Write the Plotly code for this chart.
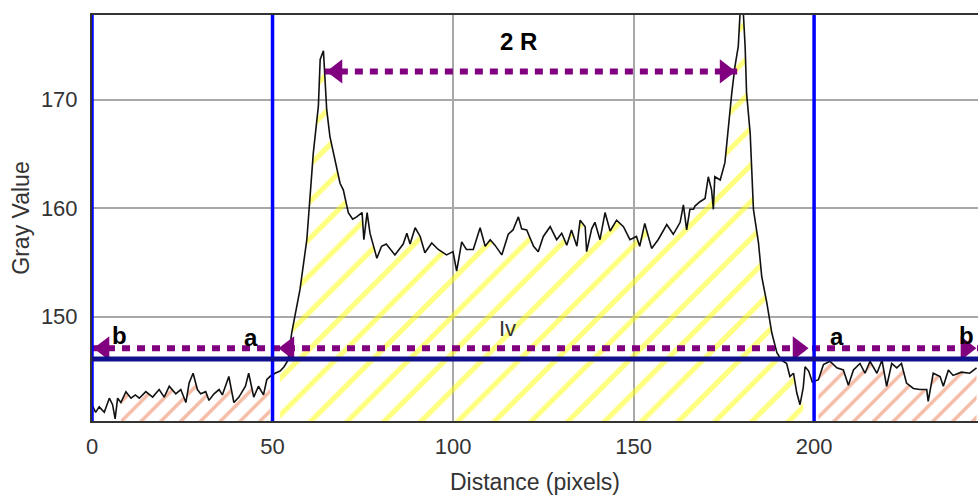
import numpy as np
import plotly.graph_objects as go

# ---------------- data ----------------
distance = [
    0.0, 1.0, 2.0, 3.4, 4.8, 5.7, 6.4, 7.1, 8.0, 9.4, 10.8, 12.0, 13.1, 14.9, 16.8, 18.6,
    20.0, 21.4, 23.2, 24.6, 26.0, 26.9, 28.0, 29.2, 30.1, 31.5, 32.4, 33.8, 35.2, 36.1,
    37.9, 39.3, 40.7, 42.5, 43.4, 44.8, 46.1, 47.5, 48.4, 49.3, 50.7, 52.1, 53.2, 54.3,
    55.3, 57.6, 59.5, 60.4, 61.3, 62.7, 63.2, 64.1, 64.5, 65.0, 65.9, 67.3, 68.7, 69.6,
    71.0, 72.2, 73.3, 74.8, 75.3, 76.2, 77.0, 78.9, 80.2, 81.5, 83.9, 86.2, 87.2, 88.1,
    89.5, 90.9, 92.2, 94.1, 95.9, 98.2, 100.0, 101.0, 102.4, 103.7, 105.6, 107.5, 108.9,
    110.3, 111.6, 113.5, 115.3, 116.6, 118.1, 119.0, 120.4, 122.3, 123.6, 125.0, 126.9,
    128.7, 130.1, 131.5, 132.8, 134.3, 135.2, 136.6, 137.0, 138.4, 139.3, 140.7, 142.1,
    143.5, 145.3, 147.2, 149.0, 150.8, 151.7, 153.1, 155.0, 156.8, 159.2, 161.0, 162.9,
    163.8, 164.7, 165.6, 166.6, 167.0, 168.4, 169.8, 170.7, 171.6, 172.1, 172.5, 174.0,
    175.3, 176.3, 177.2, 178.1, 179.0, 179.5, 180.4, 180.9, 181.3, 182.3, 183.2, 184.6,
    185.5, 186.9, 188.3, 189.7, 191.0, 192.4, 193.3, 194.3, 195.2, 196.1, 197.0, 197.5,
    198.5, 199.5, 201.2, 202.6, 204.4, 206.3, 208.1, 209.5, 210.9, 212.7, 214.1, 215.5,
    217.4, 218.8, 220.1, 221.5, 222.9, 224.2, 225.6, 227.5, 229.3, 231.2, 231.6, 233.0,
    234.9, 235.8, 237.2, 238.5, 240.8, 243.1, 245.0,
]
gray_value = [
    141.9, 141.2, 141.7, 141.2, 142.5, 141.9, 140.6, 142.5, 142.1, 143.1, 142.5, 142.8,
    142.5, 143.1, 142.6, 143.3, 142.6, 143.6, 142.9, 143.3, 142.1, 143.9, 144.8, 143.3,
    142.9, 143.1, 142.3, 142.9, 143.3, 142.8, 144.5, 142.1, 142.6, 143.6, 144.8, 142.6,
    143.6, 142.8, 144.2, 144.5, 144.8, 145.0, 145.4, 146.0, 148.5, 152.5, 157.1, 161.4,
    165.1, 169.4, 173.7, 174.5, 172.5, 169.1, 166.6, 164.5, 162.3, 161.7, 159.6, 159.0,
    159.2, 159.6, 157.1, 159.6, 157.7, 155.4, 156.5, 156.7, 155.7, 156.7, 157.7, 156.7,
    158.2, 157.4, 155.9, 156.8, 156.2, 155.7, 156.0, 154.2, 156.9, 156.2, 156.2, 158.2,
    156.5, 157.1, 156.6, 155.7, 157.6, 158.0, 159.2, 158.1, 158.0, 156.5, 156.0, 157.4,
    158.3, 157.1, 157.7, 156.6, 158.0, 156.5, 158.9, 158.3, 156.0, 158.1, 158.7, 157.1,
    159.6, 157.9, 158.9, 158.3, 157.1, 157.4, 156.5, 158.6, 156.3, 157.1, 158.5, 157.6,
    158.7, 160.3, 158.0, 159.9, 159.9, 160.2, 160.6, 160.9, 162.9, 161.7, 159.9, 162.9,
    162.6, 164.2, 167.9, 170.6, 173.1, 174.9, 178.0, 178.0, 174.9, 170.6, 166.9, 159.9,
    156.8, 153.7, 151.3, 148.5, 146.7, 146.0, 145.7, 144.5, 144.8, 143.0, 141.9, 143.5,
    145.4, 145.0, 144.0, 144.2, 145.6, 145.9, 145.3, 145.1, 143.7, 145.1, 145.7, 144.8,
    145.9, 144.8, 146.0, 143.6, 145.7, 145.3, 145.7, 143.9, 143.4, 143.3, 143.3, 142.2,
    144.8, 144.5, 143.6, 145.1, 144.6, 144.9, 144.8, 145.3,
]

x_ticks = [0, 50, 100, 150, 200]
y_ticks = [150, 160, 170]
x_range = [0, 245.4]
y_range = [140.4, 177.8]

boundary_x = [0, 50, 200]          # blue vertical markers
level_y = 146.1                     # navy horizontal level
dotted_y = 147.1                    # long dotted arrow level
top_arrow_y = 172.6                 # "2 R" arrow level
top_arrow_tips = [64.5, 178.7]
bottom_left_tips = [0.0, 51.2]
bottom_right_tips = [198.9, 245.4]
head_offset = 3.35                  # arrowhead tip-to-centre distance in x units

yellow_span = [52.0, 197.0]
orange_spans = [[8.0, 50.0], [200.0, 245.0]]

label_text = ["2 R", "b", "a", "a", "b"]
label_x = [118.0, 7.5, 44.0, 206.4, 242.1]
label_y = [175.4, 148.25, 148.1, 148.2, 148.25]
iv_text = "Iv"
iv_x, iv_y = 115.2, 148.9

# ---------------- figure ----------------
dx = np.array(distance)
gy = np.array(gray_value)

fig = go.Figure()

def span_trace(lo, hi, color, size, solidity):
    m = (dx >= lo) & (dx <= hi)
    return go.Scatter(
        x=dx[m], y=gy[m], mode="none", fill="tozeroy",
        fillcolor="rgba(0,0,0,0)",
        fillpattern=dict(shape="/", fgcolor=color, bgcolor="rgba(0,0,0,0)",
                         size=size, solidity=solidity),
        hoverinfo="skip", showlegend=False,
    )

fig.add_trace(span_trace(yellow_span[0], yellow_span[1], "#ffff00", 26, 0.2))
for lo, hi in orange_spans:
    fig.add_trace(span_trace(lo, hi, "#ec7a50", 14, 0.25))

# profile line
fig.add_trace(go.Scatter(x=distance, y=gray_value, mode="lines",
                         line=dict(color="#111111", width=1.6), showlegend=False))

# blue boundaries (shapes)
for bx in boundary_x:
    fig.add_shape(type="line", xref="x", yref="y", x0=bx, x1=bx,
                  y0=y_range[0], y1=y_range[1],
                  line=dict(color="#0000ff", width=3.5), layer="above")
fig.add_shape(type="line", xref="x", yref="y", x0=x_range[0], x1=x_range[1],
              y0=level_y, y1=level_y, line=dict(color="#10108c", width=5), layer="above")

purple = "#800080"
dash = "8px,7px"
# dotted arrow lines
fig.add_trace(go.Scatter(x=top_arrow_tips, y=[top_arrow_y] * 2, mode="lines",
                         line=dict(color=purple, width=6, dash=dash), showlegend=False))
fig.add_trace(go.Scatter(x=x_range, y=[dotted_y] * 2, mode="lines",
                         line=dict(color=purple, width=6, dash=dash), showlegend=False))

# arrowheads
left_x = [top_arrow_tips[0] + head_offset] + [t + head_offset for t in bottom_left_tips]
left_y = [top_arrow_y] + [dotted_y] * len(bottom_left_tips)
right_x = [top_arrow_tips[1] - head_offset] + [t - head_offset for t in bottom_right_tips]
right_y = [top_arrow_y] + [dotted_y] * len(bottom_right_tips)
fig.add_trace(go.Scatter(x=left_x, y=left_y, mode="markers",
                         marker=dict(symbol="triangle-left", size=21, color=purple),
                         showlegend=False, cliponaxis=False))
fig.add_trace(go.Scatter(x=right_x, y=right_y, mode="markers",
                         marker=dict(symbol="triangle-right", size=21, color=purple),
                         showlegend=False, cliponaxis=False))

# labels
for t, lx, ly in zip(label_text, label_x, label_y):
    fig.add_annotation(x=lx, y=ly, text=f"<b>{t}</b>", showarrow=False,
                       font=dict(family="Liberation Sans, Arial", size=24, color="#000000"))
fig.add_annotation(x=iv_x, y=iv_y, text=iv_text, showarrow=False,
                   font=dict(family="Liberation Sans, Arial", size=22, color="#333333"))

tick_font = dict(family="Liberation Sans, Arial", size=22, color="#333333")
title_font = dict(family="Liberation Sans, Arial", size=23, color="#333333")
fig.update_layout(
    width=978, height=497,
    margin=dict(l=92, r=0, t=15, b=76),
    plot_bgcolor="#ffffff", paper_bgcolor="#ffffff",
    showlegend=False,
    xaxis=dict(range=x_range, tickvals=x_ticks, showgrid=True, gridcolor="#a8a8a8",
               gridwidth=1.5, zeroline=False, showline=True, mirror=True,
               linecolor="#333333", linewidth=2, tickfont=tick_font,
               ticklabelstandoff=5, automargin=False,
               title=dict(text="Distance (pixels)", font=title_font, standoff=15)),
    yaxis=dict(range=y_range, tickvals=y_ticks, showgrid=True, gridcolor="#a8a8a8",
               gridwidth=1.5, zeroline=False, showline=True, mirror=True,
               linecolor="#333333", linewidth=2, tickfont=tick_font,
               ticklabelstandoff=8, automargin=False,
               title=dict(text="Gray Value", font=title_font, standoff=5)),
)

fig.write_html(
    "out.html",
    config={"displayModeBar": False},
    post_script="document.body.style.margin='0px';document.body.style.overflow='hidden';",
)
